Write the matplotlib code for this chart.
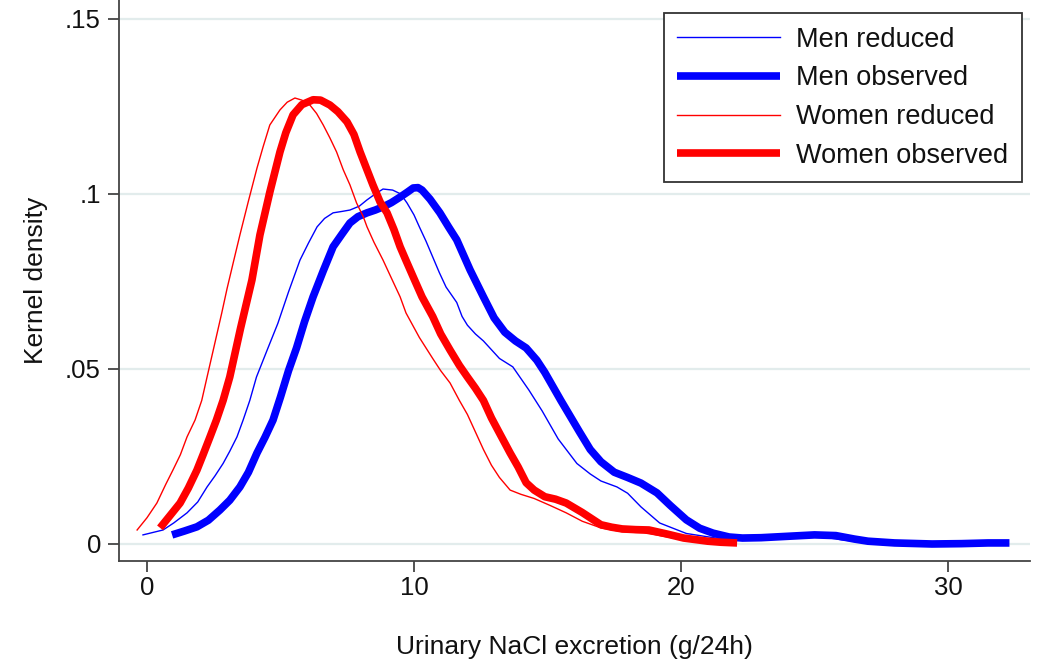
import matplotlib
matplotlib.use("Agg")
import matplotlib.pyplot as plt

plt.rcParams['font.family'] = ['Liberation Sans', 'DejaVu Sans']

# kernel density estimates, urinary NaCl (g/24h)
men_obs_x = [0.94, 1.4, 1.87, 2.3, 2.73, 3.1, 3.48, 3.8, 4.12, 4.42, 4.72, 5.0, 5.3, 5.6, 5.9, 6.22,
             6.6, 6.97, 7.3, 7.6, 7.9, 8.24, 8.55, 8.84, 9.15, 9.48, 9.75, 9.97, 10.15, 10.3, 10.6,
             10.97, 11.3, 11.6, 12.1, 12.6, 13.0, 13.4, 13.8, 14.2, 14.6, 14.9, 15.5, 16.2, 16.6,
             17.0, 17.5, 18.0, 18.5, 19.1, 19.6, 20.2, 20.7, 21.2, 21.8, 22.3, 23.0, 24.0, 25.0,
             25.8, 26.5, 27.0, 28.0, 29.4, 30.5, 31.5, 32.3]
men_obs_y = [0.0026, 0.0037, 0.0049, 0.0068, 0.0097, 0.0125, 0.0163, 0.0205, 0.026, 0.0305, 0.0354,
             0.042, 0.0495, 0.056, 0.0635, 0.0706, 0.078, 0.0849, 0.0885, 0.0917, 0.0935, 0.0946,
             0.0954, 0.0963, 0.0975, 0.0991, 0.1005, 0.1017, 0.1018, 0.1011, 0.0985, 0.0946, 0.0905,
             0.0869, 0.0783, 0.0706, 0.0646, 0.0605, 0.058, 0.056, 0.0525, 0.049, 0.041, 0.032,
             0.027, 0.0235, 0.0205, 0.019, 0.0174, 0.0146, 0.011, 0.0069, 0.0045, 0.0031, 0.002,
             0.0017, 0.0018, 0.0022, 0.0026, 0.0024, 0.0014, 0.0008, 0.0003, 0.0, 0.0001, 0.0003,
             0.0003]

men_red_x = [-0.15, 0.6, 1.0, 1.5, 1.9, 2.25, 2.55, 2.85, 3.1, 3.37, 3.6, 3.85, 4.1, 4.5, 4.9, 5.3,
             5.73, 6.05, 6.37, 6.65, 6.97, 7.3, 7.6, 7.95, 8.24, 8.55, 8.84, 9.2, 9.5, 9.74, 10.0,
             10.2, 10.45, 10.7, 10.95, 11.2, 11.4, 11.6, 11.8, 12.0, 12.3, 12.6, 13.2, 13.7, 14.3,
             14.8, 15.4, 16.1, 16.6, 17.0, 17.6, 18.0, 18.5, 19.2, 20.2, 21.3, 22.0, 23.0, 24.0,
             25.0, 26.0, 27.0, 28.5, 30.0, 31.3]
men_red_y = [0.0026, 0.004, 0.006, 0.0089, 0.012, 0.0163, 0.0195, 0.023, 0.0265, 0.0306, 0.0354,
             0.041, 0.0477, 0.0554, 0.063, 0.072, 0.0811, 0.086, 0.0906, 0.093, 0.0946, 0.095,
             0.0954, 0.0965, 0.0983, 0.1, 0.1014, 0.1011, 0.1, 0.0974, 0.094, 0.0906, 0.0865, 0.082,
             0.0775, 0.0734, 0.0712, 0.069, 0.065, 0.0625, 0.060, 0.058, 0.053, 0.0506, 0.044, 0.038,
             0.030, 0.023, 0.020, 0.018, 0.0163, 0.0145, 0.0106, 0.006, 0.003, 0.0017, 0.0014,
             0.0018, 0.0024, 0.0024, 0.0012, 0.0004, 0.0, 0.0001, 0.0003]

women_obs_x = [0.49, 0.85, 1.24, 1.55, 1.87, 2.1, 2.36, 2.6, 2.85, 3.1, 3.5, 3.93, 4.23, 4.6, 4.98,
               5.2, 5.47, 5.8, 6.22, 6.5, 6.85, 7.15, 7.49, 7.75, 7.98, 8.24, 8.46, 8.73, 8.99, 9.25,
               9.48, 9.7, 9.97, 10.3, 10.7, 11.0, 11.35, 11.7, 12.0, 12.3, 12.6, 12.9, 13.2, 13.6,
               13.9, 14.2, 14.5, 14.9, 15.3, 15.7, 16.3, 16.7, 17.0, 17.4, 17.8, 18.3, 18.8, 19.5,
               20.1, 20.6, 21.0, 21.5, 22.1]
women_obs_y = [0.0046, 0.008, 0.0117, 0.016, 0.0211, 0.0255, 0.0306, 0.0354, 0.041, 0.0477, 0.0615,
               0.0754, 0.0883, 0.1005, 0.112, 0.1175, 0.1226, 0.1255, 0.1269, 0.1268, 0.1254, 0.1235,
               0.1206, 0.117, 0.112, 0.1069, 0.1026, 0.0977, 0.0946, 0.0898, 0.0849, 0.081, 0.0763,
               0.0706, 0.065, 0.060, 0.0554, 0.051, 0.0477, 0.0445, 0.041, 0.036, 0.0317, 0.026,
               0.022, 0.0175, 0.0154, 0.0135, 0.0128, 0.0117, 0.009, 0.007, 0.0055, 0.0048, 0.0043,
               0.0041, 0.004, 0.0028, 0.0017, 0.0012, 0.0008, 0.0005, 0.0003]

women_red_x = [-0.37, 0.0, 0.37, 0.7, 0.97, 1.25, 1.5, 1.8, 2.05, 2.25, 2.5, 2.8, 3.0, 3.25, 3.48,
               3.8, 4.12, 4.35, 4.6, 4.98, 5.25, 5.54, 5.8, 6.1, 6.35, 6.6, 6.85, 7.1, 7.35, 7.6,
               7.85, 8.1, 8.24, 8.5, 8.84, 9.15, 9.48, 9.7, 10.2, 10.7, 11.0, 11.35, 11.7, 12.0,
               12.3, 12.6, 12.9, 13.2, 13.6, 14.0, 14.5, 15.1, 15.7, 16.3, 17.0, 17.8, 18.6, 19.5,
               20.3, 21.0]
women_red_y = [0.004, 0.0075, 0.0117, 0.017, 0.0211, 0.0255, 0.0306, 0.0354, 0.041, 0.0477, 0.056,
               0.066, 0.073, 0.081, 0.0883, 0.098, 0.1074, 0.1135, 0.1197, 0.124, 0.1262, 0.1274,
               0.1268, 0.1254, 0.123, 0.1197, 0.116, 0.112, 0.1069, 0.1026, 0.0974, 0.0935, 0.0906,
               0.0862, 0.0811, 0.076, 0.0706, 0.066, 0.059, 0.053, 0.0495, 0.046, 0.041, 0.037,
               0.032, 0.027, 0.0225, 0.019, 0.0154, 0.0142, 0.013, 0.011, 0.0089, 0.0065, 0.0046,
               0.0035, 0.0032, 0.002, 0.001, 0.0005]

yticks = [0, 0.05, 0.1, 0.15]
ytick_labels = ['0', '.05', '.1', '.15']
xticks = [0, 10, 20, 30]

fig = plt.figure(figsize=(10.38, 6.59), dpi=100)
ax = fig.add_axes([0.1146, 0.1487, 0.8777, 0.8513])

for yv in yticks:
    ax.axhline(yv, color='#e2ecec', lw=1.6, zorder=0)

ax.plot(men_red_x, men_red_y, color='#0000ff', lw=1.0, label='Men reduced')
ax.plot(men_obs_x, men_obs_y, color='#0000ff', lw=5.5, label='Men observed',
        solid_capstyle='butt', solid_joinstyle='round')
ax.plot(women_red_x, women_red_y, color='#ff0000', lw=1.0, label='Women reduced')
ax.plot(women_obs_x, women_obs_y, color='#ff0000', lw=5.5, label='Women observed',
        solid_capstyle='butt', solid_joinstyle='round')

ax.set_xlim(-1.05, 33.07)
ax.set_ylim(-0.00486, 0.1554)
ax.set_xticks(xticks)
ax.set_yticks(yticks)
ax.set_yticklabels(ytick_labels)

for side in ['top', 'right']:
    ax.spines[side].set_visible(False)
for side in ['left', 'bottom']:
    ax.spines[side].set_color('#444444')
    ax.spines[side].set_linewidth(1.3)

ax.tick_params(axis='both', length=8, width=1.3, color='#444444', labelsize=18.5,
               labelcolor='#111111')
ax.tick_params(axis='y', pad=5)
ax.tick_params(axis='x', pad=3)

ax.set_xlabel('Urinary NaCl excretion (g/24h)', fontsize=19, color='#111111', labelpad=25)
ax.set_ylabel('Kernel density', fontsize=19, color='#111111', labelpad=12)

leg = ax.legend(loc='upper right', bbox_to_anchor=(1022 / 1038, 1 - 13 / 659),
                bbox_transform=fig.transFigure, borderaxespad=0, fontsize=19.5,
                frameon=True, fancybox=False, edgecolor='#333333', framealpha=1,
                handlelength=3.8, handletextpad=0.6, labelspacing=0.47, borderpad=0.5)
leg.get_frame().set_linewidth(1.3)
for t in leg.get_texts():
    t.set_color('#111111')

fig.savefig('out.png', dpi=100)
